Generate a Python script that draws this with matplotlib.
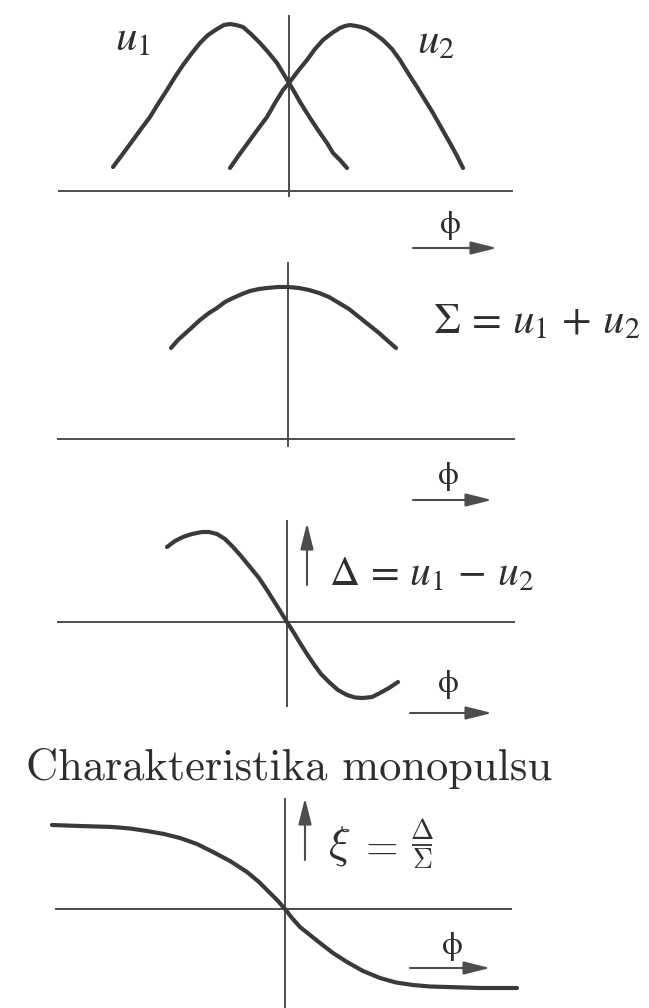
import matplotlib
matplotlib.use("Agg")
import matplotlib.pyplot as plt
from matplotlib.patches import FancyArrowPatch

W, H, DPI = 649, 1008, 100

# ---- curve data (x: offset from the vertical axis, y: height above the horizontal axis)
u1_x = [-176, -167, -156, -148, -139, -131, -122, -114, -106, -97, -89, -81, -72, -65,
        -59, -53, -46, -38, -29, -21, -12, -6, 0, 6, 11, 21, 31, 38, 44, 51, 58]
u1_y = [24, 36, 51, 62, 74, 87, 101, 114, 126, 138, 148, 156, 162, 166,
        167, 166, 164, 157, 148, 139, 128, 118, 108, 98, 89, 73, 58, 48, 38, 31, 23]

u2_x = [-59, -50, -39, -31, -22, -14, -6, 0, 9, 18, 26, 34, 43, 51, 56, 61,
        67, 72, 78, 86, 94, 103, 111, 119, 128, 136, 144, 153, 161, 168, 174]
u2_y = [23, 36, 51, 62, 74, 88, 101, 108, 120, 131, 142, 151, 158, 163, 165, 166,
        165, 164, 162, 157, 151, 142, 131, 118, 104, 91, 78, 62, 48, 35, 23]

sum_x = [-117, -110, -100, -88, -79, -71, -63, -55, -46, -38, -29, -21, -10, 0,
         11, 21, 31, 41, 51, 61, 71, 81, 91, 100, 108]
sum_y = [91, 99, 108, 119, 126, 131, 137, 141, 145, 148, 150, 151, 152, 152,
         151, 149, 146, 142, 136, 130, 122, 114, 106, 98, 91]

diff_x = [-120, -112, -104, -95, -85, -78, -70, -62, -54, -46, -37, -28, -20, -10, 0,
          7, 13, 20, 26, 34, 43, 51, 60, 68, 76, 85, 93, 102, 111]
diff_y = [75, 81, 85, 88, 90, 90, 88, 83, 75, 66, 55, 44, 32, 16, 0,
          -11, -21, -32, -41, -52, -61, -68, -73, -75.5, -76, -75, -71, -66, -60]

xi_x = [-233, -205, -172, -155, -138, -121, -105, -88, -72, -55, -38, -26, -15, -7, 0,
        7, 15, 25, 35, 48, 62, 78, 95, 111, 128, 145, 162, 195, 232]
xi_y = [84, 83, 82, 80.5, 78, 75, 71, 65, 57, 48, 37, 27, 16, 8, 0,
        -9, -18, -26, -34, -44, -53, -62, -69, -73.5, -76, -77.5, -78, -79, -79]

CURVE = "#3a3a3a"
AXIS = "#4d4d4d"
TEXT = "#2e2e2e"
CURVE_LW = 3.0
AXIS_LW = 1.4

fig = plt.figure(figsize=(W / DPI, H / DPI), dpi=DPI)
fig.patch.set_facecolor("white")


def panel(origin_x, origin_y, top, bottom):
    """Axes in pixel units centred on the drawn coordinate cross."""
    ax = fig.add_axes([0, 1 - bottom / H, 1, (bottom - top) / H])
    ax.set_xlim(-origin_x, W - origin_x)
    ax.set_ylim(origin_y - bottom, origin_y - top)
    ax.axis("off")
    return ax


def cross(ax, hx, vy):
    ax.plot(hx, [0, 0], color=AXIS, lw=AXIS_LW, solid_capstyle="butt", clip_on=False)
    ax.plot([0, 0], vy, color=AXIS, lw=AXIS_LW, solid_capstyle="butt", clip_on=False)


def arrow(ax, start, end):
    a = FancyArrowPatch(start, end, arrowstyle="-|>,head_length=1.6,head_width=0.4",
                        mutation_scale=10, color=AXIS, lw=1.5, shrinkA=0, shrinkB=0,
                        clip_on=False)
    ax.add_patch(a)


def phi_label(ax, cx, cy, ay, x0, x1):
    ax.text(cx, cy, "\u03d5", fontsize=24, family="STIXGeneral", color=TEXT,
            ha="center", va="center")
    arrow(ax, (x0, ay), (x1, ay))


def curve(ax, xs, ys):
    ax.plot(xs, ys, color=CURVE, lw=CURVE_LW, solid_capstyle="round",
            solid_joinstyle="round", clip_on=False)


# ---- panel 1: the two antenna patterns
ax1 = panel(289, 191, 0, 255)
cross(ax1, [-231, 224], [-6, 176])
curve(ax1, u1_x, u1_y)
curve(ax1, u2_x, u2_y)
ax1.text(-174, 141, r"$u_1$", fontsize=31, math_fontfamily="stix", color=TEXT,
         ha="left", va="baseline")
ax1.text(128, 138, r"$u_2$", fontsize=31, math_fontfamily="stix", color=TEXT,
         ha="left", va="baseline")
phi_label(ax1, 161, -34, -57, 124, 208)

# ---- panel 2: sum channel
ax2 = panel(288, 439, 255, 515)
cross(ax2, [-231, 227], [-8, 177])
curve(ax2, sum_x, sum_y)
ax2.text(145, 106, r"$\Sigma\,=\,u_1\,+\,u_2$", fontsize=31, math_fontfamily="stix",
         color=TEXT, ha="left", va="baseline")
phi_label(ax2, 160, -37, -61, 125, 204)

# ---- panel 3: difference channel
ax3 = panel(287, 622, 515, 735)
cross(ax3, [-230, 228], [-85, 102])
curve(ax3, diff_x, diff_y)
arrow(ax3, (20, 37), (20, 99))
ax3.text(42, 37, r"$\Delta\,=\,u_1\,-\,u_2$", fontsize=30, math_fontfamily="stix",
         color=TEXT, ha="left", va="baseline")
phi_label(ax3, 161, -62, -91, 123, 205)

# ---- panel 4: monopulse characteristic
ax4 = panel(285, 909, 735, 1008)
cross(ax4, [-230, 227], [-99, 111])
curve(ax4, xi_x, xi_y)
ax4.text(4, 129, "Charakteristika monopulsu", fontsize=32, family="cmr10",
         color=TEXT, ha="center", va="baseline")
arrow(ax4, (20, 49), (20, 111))
# xi = Delta / Sigma, typeset as a stacked fraction
ax4.text(43, 63, r"$\xi$", fontsize=33, math_fontfamily="cm",
         color=TEXT, ha="left", va="center")
ax4.text(93, 62, r"$=$", fontsize=30, math_fontfamily="cm",
         color=TEXT, ha="center", va="center")
ax4.text(137, 78, r"$\Delta$", fontsize=20, math_fontfamily="cm",
         color=TEXT, ha="center", va="center")
ax4.plot([127, 147], [64, 64], color=TEXT, lw=1.3, solid_capstyle="butt", clip_on=False)
ax4.text(137, 49, r"$\Sigma$", fontsize=20, math_fontfamily="cm",
         color=TEXT, ha="center", va="center")
phi_label(ax4, 167, -37, -59, 125, 205)

fig.savefig("out.png", dpi=DPI, facecolor="white")
